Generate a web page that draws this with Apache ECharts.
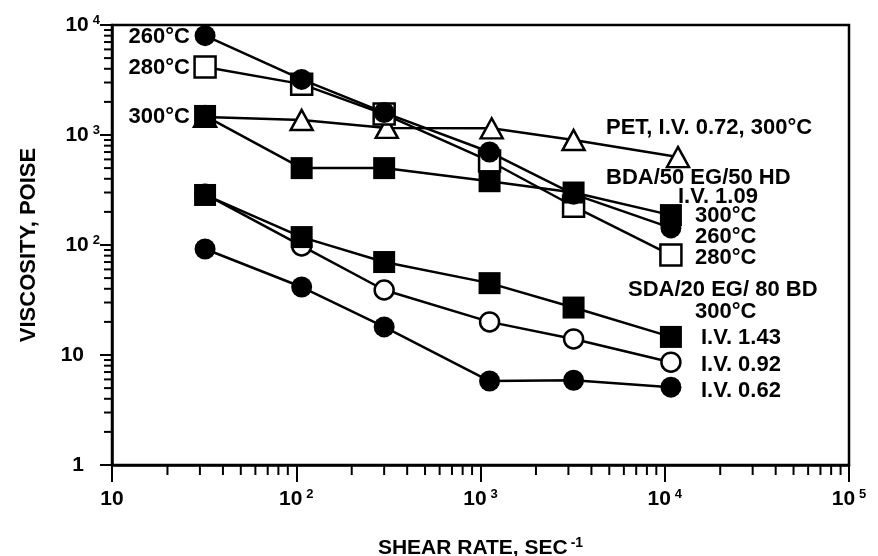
<!DOCTYPE html>
<html>
<head>
<meta charset="utf-8">
<script src="https://cdn.jsdelivr.net/npm/echarts@6/dist/echarts.min.js"></script>
<style>
html,body{margin:0;padding:0;background:#fff;}
#c{width:878px;height:556px;}
</style>
</head>
<body>
<div id="c"></div>
<script>
// ---- data ----
const shearRate = [32, 107, 300, 1120, 3200, 10800];
const petShear  = [32, 107, 310, 1150, 3200, 11800];
const pet072_300 = [1460, 1370, 1160, 1150, 900, 630];
const bda280 = [4150, 2900, 1550, 580, 225, 81];
const bda300 = [1490, 500, 500, 380, 300, 187];
const bda260 = [8000, 3200, 1600, 700, 290, 143];
const sda092 = [290, 98, 39, 20, 14, 8.6];
const sda143 = [285, 118, 70, 45, 27, 14.6];
const sda062 = [92, 41.5, 18, 5.8, 5.9, 5.1];

const xMajorLabels = {10:'10', 100:'2', 1000:'3', 10000:'4', 100000:'5'};
const yMajorLabels = {1:'1', 10:'10', 100:'2', 1000:'3', 10000:'4'};
const minorMult = [2,3,4,5,6,7,8,9];
const xDecades = [10, 100, 1000, 10000];
const yDecades = [1, 10, 100, 1000];

const FONT = '"Liberation Sans", Arial, sans-serif';
const BLACK = '#000';

const xMinor = [];
xDecades.forEach(d => minorMult.forEach(m => xMinor.push([d*m, 1])));
const yMinor = [];
yDecades.forEach(d => minorMult.forEach(m => yMinor.push([10, d*m])));

function zip(xs, ys){ return xs.map((x,i)=>[x, ys[i]]); }

const chart = echarts.init(document.getElementById('c'), null, {renderer:'canvas'});

const richLabel = {
  b: {fontSize: 21, fontWeight: 'bold', fontFamily: FONT, color: BLACK, lineHeight: 22},
  s: {fontSize: 13, fontWeight: 'bold', fontFamily: FONT, color: BLACK, verticalAlign: 'top', lineHeight: 22, padding:[0,0,0,4]},
  p: {fontSize: 21, fontWeight: 'bold', fontFamily: FONT, color: BLACK, lineHeight: 22, padding:[0,16,0,0]}
};

function lineSeries(name, xs, ys, symbol, filled, size){
  return {
    name, type: 'line', data: zip(xs, ys),
    symbol, symbolSize: size, showSymbol: true,
    lineStyle: {color: BLACK, width: 2.5},
    itemStyle: filled ? {color: BLACK, borderColor: BLACK, borderWidth: 0}
                      : {color: '#fff', borderColor: BLACK, borderWidth: 2.5},
    emphasis: {disabled: true},
    z: 3
  };
}

function tickSeries(data, vertical, len){
  return {
    type: 'custom', data, clip: false, silent: true, z: 4,
    encode: {x: 0, y: 1},
    renderItem: function(params, api){
      const p = api.coord([api.value(0), api.value(1)]);
      const shape = vertical ? {x1:p[0], y1:p[1], x2:p[0], y2:p[1]+len}
                             : {x1:p[0]-len, y1:p[1], x2:p[0], y2:p[1]};
      return {type:'line', shape, style:{stroke: BLACK, lineWidth: 2}};
    }
  };
}

function txt(text, x, y, align){
  return {type:'text', x, y, z: 10, style:{text, fill: BLACK,
    font: 'bold 22px ' + FONT, textAlign: align || 'left', textVerticalAlign: 'middle',
    align: align || 'left', verticalAlign: 'middle'}};
}

const option = {
  animation: false,
  backgroundColor: '#fff',
  grid: {left: 112, right: 29, top: 25, bottom: 91, containLabel: false, outerBoundsMode: 'none',
         show: true, borderColor: BLACK, borderWidth: 2.5, backgroundColor: 'transparent'},
  xAxis: {
    type: 'log', logBase: 10, min: 10, max: 100000,
    name: '{t|SHEAR RATE, SEC}{s|-1}', nameLocation: 'middle', nameGap: 71,
    nameTextStyle: {rich: {
      t: {fontSize: 21, fontWeight: 'bold', fontFamily: FONT, color: BLACK, lineHeight: 24},
      s: {fontSize: 14, fontWeight: 'bold', fontFamily: FONT, color: BLACK, verticalAlign: 'top', lineHeight: 24, padding:[0,0,0,3]}
    }},
    axisLine: {show: true, lineStyle: {color: BLACK, width: 2.5}},
    axisTick: {show: true, length: 17, lineStyle: {color: BLACK, width: 2}},
    splitLine: {show: false},
    minorTick: {show: false},
    axisLabel: {margin: 23, rich: richLabel, formatter: function(v){
      const k = Math.round(v);
      const s = xMajorLabels[k];
      if (k === 10) return '{b|10}';
      return s ? '{b|10}{s|' + s + '}' : '';
    }}
  },
  yAxis: {
    type: 'log', logBase: 10, min: 1, max: 10000,
    name: 'VISCOSITY, POISE', nameLocation: 'middle', nameGap: 72,
    nameTextStyle: {fontSize: 22, fontWeight: 'bold', fontFamily: FONT, color: BLACK},
    axisLine: {show: true, lineStyle: {color: BLACK, width: 2.5}},
    axisTick: {show: true, length: 12, lineStyle: {color: BLACK, width: 2}},
    splitLine: {show: false},
    minorTick: {show: false},
    axisLabel: {margin: 12, rich: richLabel, formatter: function(v){
      const k = Math.round(v);
      if (k === 1) return '{p|1}';
      if (k === 10) return '{p|10}';
      const s = yMajorLabels[k];
      return s ? '{b|10}{s|' + s + '}' : '';
    }}
  },
  series: [
    tickSeries(xMinor, true, 10),
    tickSeries(yMinor, false, 8),
    lineSeries('PET', petShear, pet072_300, 'triangle', false, [22, 20]),
    lineSeries('BDA 280', shearRate, bda280, 'rect', false, 21),
    lineSeries('BDA 300', shearRate, bda300, 'rect', true, 22),
    lineSeries('BDA 260', shearRate, bda260, 'circle', true, 21),
    lineSeries('SDA 0.92', shearRate, sda092, 'circle', false, 19),
    lineSeries('SDA 1.43', shearRate, sda143, 'rect', true, 22),
    lineSeries('SDA 0.62', shearRate, sda062, 'circle', true, 21)
  ],
  graphic: [
    txt('260°C', 190, 37, 'right'),
    txt('280°C', 190, 68, 'right'),
    txt('300°C', 190, 117, 'right'),
    txt('PET, I.V. 0.72, 300°C', 606, 128),
    txt('BDA/50 EG/50 HD', 606, 178),
    txt('I.V. 1.09', 678, 197),
    txt('300°C', 695, 216),
    txt('260°C', 695, 237),
    txt('280°C', 695, 258),
    txt('SDA/20 EG/ 80 BD', 628, 290),
    txt('300°C', 695, 312),
    txt('I.V. 1.43', 701, 338),
    txt('I.V. 0.92', 701, 365),
    txt('I.V. 0.62', 701, 391)
  ]
};
chart.setOption(option);
</script>
</body>
</html>
